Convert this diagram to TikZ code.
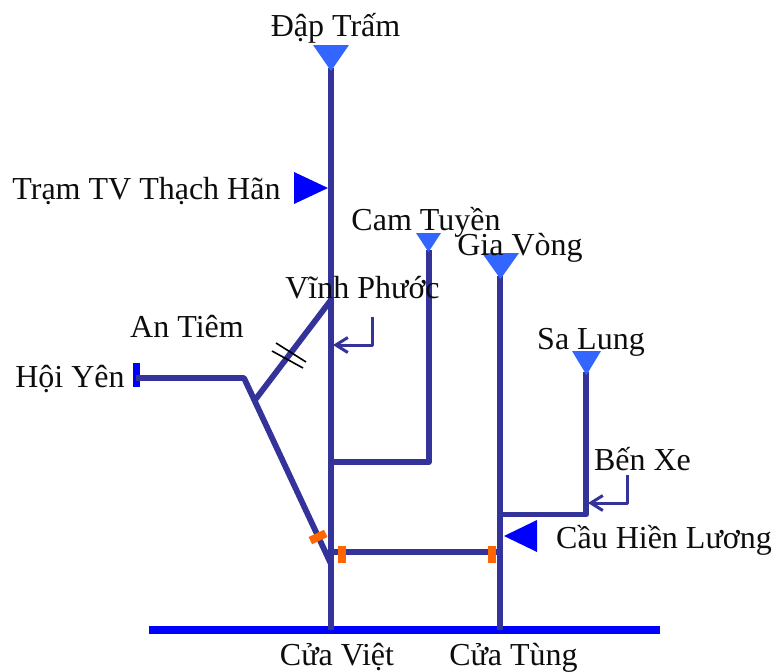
\documentclass[tikz,border=0pt]{standalone}
\usepackage{fontspec}
\setmainfont{Liberation Serif}
\usetikzlibrary{arrows.meta}
\definecolor{river}{HTML}{333399}
\definecolor{gauge}{HTML}{3366FF}
\definecolor{pure}{HTML}{0000FF}
\definecolor{works}{HTML}{FF6600}
\tikzset{
  x=1pt,y=-1pt,
  riverline/.style={draw=river,line width=5.8pt,line join=round},
  sealine/.style={draw=pure,line width=7.5pt},
  pointer/.style={draw=river,line width=3pt,line join=round,-{Straight Barb[length=12pt,width=15pt,line width=3pt]}},
  gaugetri/.style={fill=gauge},
  stationtri/.style={fill=pure},
  hash/.style={draw=black,line width=1.6pt},
  lbl/.style={anchor=base,inner sep=0pt,font=\fontsize{32}{35}\selectfont,text=black!95},
  sluice/.style={fill=works,minimum width=8pt,minimum height=17pt,inner sep=0pt,draw=none},
  endmark/.style={fill=pure,minimum width=7.5pt,minimum height=24pt,inner sep=0pt,draw=none},
}
\begin{document}
\begin{tikzpicture}
\useasboundingbox (0,0) rectangle (774,672);
% junction points
\coordinate (damTop) at (331,68);
\coordinate (vietEnd) at (331,630);
\coordinate (tungEnd) at (500,630);
\coordinate (tungTop) at (500,276);
\coordinate (camTop) at (429,250);
\coordinate (camCorner) at (429,462);
\coordinate (camJoin) at (331,462);
\coordinate (saTop) at (586,372);
\coordinate (saCorner) at (586,514.5);
\coordinate (saJoin) at (500,514.5);
\coordinate (bridgeW) at (331,552);
\coordinate (bridgeE) at (500,552);
\coordinate (hoiEnd) at (136,378);
\coordinate (hoiBend) at (244,378);
\coordinate (diagEnd) at (331,564);
\coordinate (forkS) at (255,400);
\coordinate (forkN) at (331,300);
\coordinate (seaW) at (149,630);
\coordinate (seaE) at (660,630);
\coordinate (vpStart) at (372,317);
\coordinate (vpCorner) at (372,345);
\coordinate (vpTip) at (333,345);
\coordinate (bxStart) at (627,475);
\coordinate (bxCorner) at (627,503);
\coordinate (bxTip) at (588,503);
\coordinate (hashAw) at (272,351);
\coordinate (hashAe) at (303,368);
\coordinate (hashBw) at (276,343);
\coordinate (hashBe) at (306,362);
% sea
\draw[sealine] (seaW) -- (seaE);
% rivers
\draw[riverline] (damTop) -- (vietEnd);
\draw[riverline] (tungTop) -- (tungEnd);
\draw[riverline] (camTop) -- (camCorner) -- (camJoin);
\draw[riverline] (saTop) -- (saCorner) -- (saJoin);
\draw[riverline] (bridgeW) -- (bridgeE);
\node[endmark] (hoiMark) at (136.5,375) {};
\draw[riverline] (hoiEnd) -- (hoiBend) -- (diagEnd);
\draw[riverline] (forkS) -- (forkN);
% hash
\draw[hash] (hashAw) -- (hashAe);
\draw[hash] (hashBw) -- (hashBe);
% sluices
\node[sluice] (slA) at (342,554) {};
\node[sluice] (slB) at (491.5,554) {};
\node[sluice,rotate=-65] (slC) at (318,537) {};
% pointers
\draw[pointer] (vpStart) -- (vpCorner) -- (vpTip);
\draw[pointer] (bxStart) -- (bxCorner) -- (bxTip);
% gauges
\fill[gaugetri] (313,45) -- (349,45) -- (331,71) -- cycle;
\fill[gaugetri] (416,233) -- (441,233) -- (428.5,252) -- cycle;
\fill[gaugetri] (482,253) -- (519,253) -- (500.5,279) -- cycle;
\fill[gaugetri] (572,351) -- (601,351) -- (586.5,375) -- cycle;
\fill[stationtri] (294,172) -- (328,188) -- (294,204) -- cycle;
\fill[stationtri] (504,536) -- (537,520) -- (537,552) -- cycle;
% labels
\node[lbl] (dapTram) at (335.5,36) {Đập Trấm};
\node[lbl] (thachHan) at (146.5,199) {Trạm TV Thạch Hãn};
\node[lbl] (camTuyen) at (426,230) {Cam Tuyền};
\node[lbl] (giaVong) at (520,255) {Gia Vòng};
\node[lbl] (vinhPhuoc) at (362.5,298) {Vĩnh Phước};
\node[lbl] (anTiem) at (187,337) {An Tiêm};
\node[lbl] (hoiYen) at (70,387) {Hội Yên};
\node[lbl] (saLung) at (591,349) {Sa Lung};
\node[lbl] (benXe) at (642.5,470) {Bến Xe};
\node[lbl] (hienLuong) at (664,548) {Cầu Hiền Lương};
\node[lbl] (cuaViet) at (337,665) {Cửa Việt};
\node[lbl] (cuaTung) at (513.5,665) {Cửa Tùng};
\end{tikzpicture}
\end{document}
